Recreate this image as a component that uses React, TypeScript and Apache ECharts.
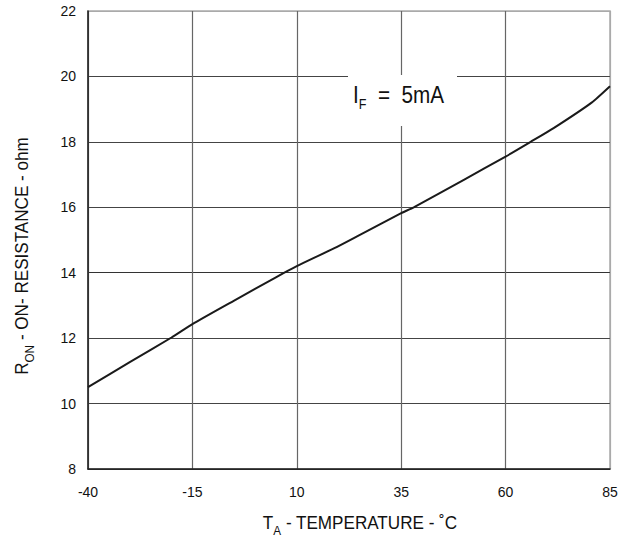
import React, { useEffect, useRef } from "react";
import * as echarts from "echarts";

const temperatures = [-40, -30, -20, -15, -5, 5, 10, 19, 25, 35, 38, 50, 60, 66, 71.5, 80.6, 85];
const resistance = [10.5, 11.27, 12.02, 12.43, 13.15, 13.86, 14.2, 14.75, 15.15, 15.82, 16.0, 16.84, 17.55, 18.0, 18.42, 19.2, 19.7];
const xTicks = [-40, -15, 10, 35, 60, 85];
const yTicks = [8, 10, 12, 14, 16, 18, 20, 22];

const FONT = "'Liberation Sans Narrow', 'Arial Narrow', 'Liberation Sans', Arial, sans-serif";

export default function App() {
  const ref = useRef<HTMLDivElement>(null);
  useEffect(() => {
    if (!ref.current) return;
    const chart = echarts.init(ref.current, null, { renderer: "svg" });
    const data = temperatures.map((t, i) => [t, resistance[i]]);
    chart.setOption({
      animation: false,
      backgroundColor: "#ffffff",
      grid: {
        left: 88,
        top: 11,
        right: 19,
        bottom: 81,
        show: true,
        borderColor: "#aaaaaa",
        borderWidth: 1.5,
      },
      xAxis: {
        type: "value",
        min: xTicks[0],
        max: xTicks[xTicks.length - 1],
        interval: 25,
        axisLine: { show: true, onZero: false, lineStyle: { color: "#222", width: 1.5 } },
        axisTick: { show: false },
        axisLabel: { color: "#111", fontSize: 14, fontFamily: FONT, margin: 16 },
        splitLine: {
          show: true,
          lineStyle: { color: ["#666", "#666", "#666", "#666", "#666", "#aaaaaa"], width: 1.2 },
        },
      },
      yAxis: {
        type: "value",
        min: yTicks[0],
        max: yTicks[yTicks.length - 1],
        interval: 2,
        axisLine: { show: true, onZero: false, lineStyle: { color: "#222", width: 1.5 } },
        axisTick: { show: false },
        axisLabel: { color: "#111", fontSize: 14, fontFamily: FONT, margin: 12 },
        splitLine: {
          show: true,
          lineStyle: {
            color: ["#333", "#444", "#444", "#333", "#444", "#444", "#444", "#aaaaaa"],
            width: 1.2,
          },
        },
      },
      series: [
        {
          type: "line",
          data,
          smooth: 0.2,
          showSymbol: false,
          lineStyle: { color: "#1a1a1a", width: 2 },
          z: 3,
        },
      ],
      graphic: [
        {
          type: "rect",
          shape: { x: 348, y: 75, width: 109, height: 51 },
          style: { fill: "#ffffff" },
          z: 10,
        },
        {
          type: "text",
          x: 353,
          y: 94,
          z: 11,
          scaleX: 0.9,
          style: {
            text: "{a|I}{b|F}{a|  =  5mA}",
            fontFamily: FONT,
            verticalAlign: "middle",
            rich: {
              a: { fontSize: 23, fontFamily: FONT, fill: "#111", lineHeight: 26, verticalAlign: "bottom" },
              b: { fontSize: 14, fontFamily: FONT, fill: "#111", lineHeight: 20, verticalAlign: "bottom", padding: [0, 0, -4, 0] },
            },
          },
        },
        {
          type: "text",
          x: 360,
          y: 520,
          z: 11,
          scaleX: 0.9,
          style: {
            text: "{a|T}{b|A}{a| - TEMPERATURE - ˚C}",
            align: "center",
            verticalAlign: "middle",
            fontFamily: FONT,
            rich: {
              a: { fontSize: 19, fontFamily: FONT, fill: "#111", lineHeight: 24, verticalAlign: "bottom" },
              b: { fontSize: 13, fontFamily: FONT, fill: "#111", lineHeight: 19, verticalAlign: "bottom", padding: [0, 0, -5, 0] },
            },
          },
        },
        {
          type: "text",
          x: 19,
          y: 256,
          rotation: Math.PI / 2,
          scaleX: 0.9,
          z: 11,
          style: {
            text: "{a|R}{b|ON}{a| - ON- RESISTANCE - ohm}",
            align: "center",
            verticalAlign: "middle",
            fontFamily: FONT,
            rich: {
              a: { fontSize: 19, fontFamily: FONT, fill: "#111", lineHeight: 24, verticalAlign: "bottom" },
              b: { fontSize: 13, fontFamily: FONT, fill: "#111", lineHeight: 19, verticalAlign: "bottom", padding: [0, 0, -5, 0] },
            },
          },
        },
      ],
    });
    return () => chart.dispose();
  }, []);
  return <div ref={ref} style={{ width: 629, height: 550, position: "absolute", left: 0, top: 0 }} />;
}
